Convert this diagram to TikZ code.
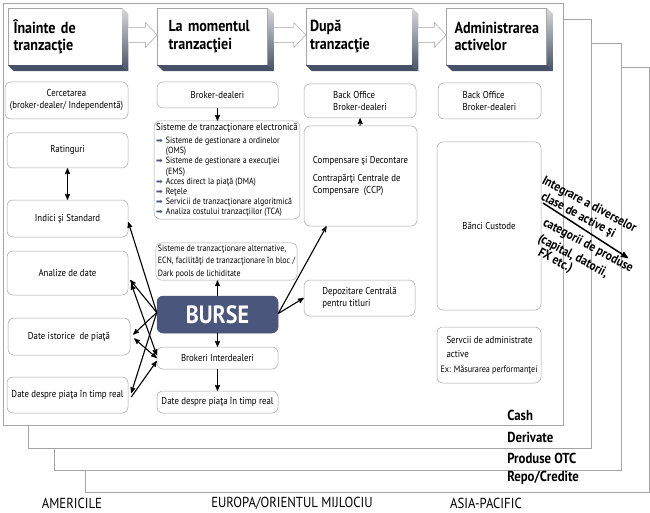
\documentclass[tikz,border=0pt]{standalone}
\usepackage{fontspec}
\setmainfont{PT Sans}[FakeStretch=0.88]
\newfontfamily\symfont{DejaVu Sans}
\usepackage{tikz}
\usetikzlibrary{arrows,positioning,calc}
\definecolor{slate}{RGB}{74,86,124}
\definecolor{edge}{RGB}{165,165,165}
\definecolor{deep}{RGB}{70,80,102}
\newcommand{\bul}{{\symfont\color{slate}\fontsize{8}{8}\selectfont ➡}\,\,}
\newcommand{\slab}[1]{%
  \shade[top color=gray!30,bottom color=deep] (#1.north east) -- ++(6,6) -- ($(#1.south east)+(6,6)$) -- (#1.south east) -- cycle;
  \fill[deep] (#1.south west) -- ++(6,6) -- ($(#1.south east)+(6,6)$) -- (#1.south east) -- cycle;}
\newcommand{\blockarrow}[2]{%
  \draw[edge,fill=white,line width=0.5pt] ($(#1.east)+(6,-9)$) -- ($(#2.west)+(-12,-9)$) -- ($(#2.west)+(-12,-14)$)
    -- ($(#2.west)+(0,-1.5)$) -- ($(#2.west)+(-12,11)$) -- ($(#2.west)+(-12,6)$) -- ($(#1.east)+(6,6)$);}

\begin{document}
\begin{tikzpicture}[x=1pt,y=-1pt,>=stealth',semithick]
\tikzstyle{frame} = [draw=edge,fill=white,line width=0.6pt]
\tikzstyle{box} = [draw=edge,rounded corners=6pt,fill=white,line width=0.5pt,inner sep=2pt,align=center,font=\fontsize{10}{12}\selectfont]
\tikzstyle{head} = [draw=edge,fill=white,line width=0.5pt,align=left,inner ysep=6pt,minimum height=57pt,font=\bfseries\fontsize{16}{17.5}\selectfont]
\tikzstyle{tag} = [anchor=west,inner sep=0pt,font=\bfseries\fontsize{14.5}{16}\selectfont]
\tikzstyle{region} = [inner sep=0pt,font=\fontsize{14.5}{16}\selectfont]
\tikzstyle{slant} = [anchor=base west,rotate=-28,inner sep=0pt,font=\bfseries\fontsize{13}{14}\selectfont]
\useasboundingbox (0,0) rectangle (650,513);

% product layers
\draw[frame] (85,67) rectangle (649,492);
\draw[frame] (54,43) rectangle (621,470);
\draw[frame] (28,19) rectangle (591,448);
\draw[frame] (3,3) rectangle (563,425);
\node[tag] (cash) at (507,415) {Cash};
\node[tag] (deriv) at (507,437) {Derivate};
\node[tag] (otc) at (507,458) {Produse OTC};
\node[tag] (repo) at (507,478) {Repo/Credite};

% stages
\node[head,inner xsep=5.5pt,text width=103pt] (pre) at (65,36.5) {Înainte de\\tranzacţie};
\node[head,inner xsep=11pt,text width=88pt] (during) [right=35pt of pre] {La momentul\\tranzacţiei};
\node[head,inner xsep=4pt,text width=98pt] (post) [right=38pt of during] {După\\tranzacţie};
\node[head,inner xsep=8pt,text width=84pt] (admin) [right=34pt of post] {Administrarea\\activelor};
\slab{pre} \slab{during} \slab{post} \slab{admin}
\blockarrow{pre}{during}
\blockarrow{during}{post}
\blockarrow{post}{admin}

% column 1
\node[box,minimum width=123pt,minimum height=37pt] (cerc) at (66.5,100.5) {Cercetarea\\(broker-dealer/ Independentă)};
\node[box,minimum width=121pt,minimum height=35pt] (rating) at (67.5,150.5) {Ratinguri};
\node[box,minimum width=121pt,minimum height=37pt] (indici) at (67.5,218.5) {Indici şi Standard};
\node[box,minimum width=121pt,minimum height=44pt] (analize) at (67.5,273) {Analize de date};
\node[box,minimum width=122pt,minimum height=37pt] (istoric) at (69,336.5) {Date istorice\ \ de piaţă};
\node[box,minimum width=121pt,minimum height=36pt] (real1) at (67.5,395) {Date despre piaţa în timp real};

% column 2
\node[box,minimum width=121pt,minimum height=26pt] (broker) at (217.5,95) {Broker-dealeri};
\node[box,minimum width=144pt,minimum height=98pt,align=left,font=\fontsize{9}{10.2}\selectfont] (ets) at (227,170) {%
  \fontsize{10}{12}\selectfont Sisteme de tranzacţionare electronică\\[3pt]
  \bul Sisteme de gestionare a ordinelor\\
  \phantom{\bul}(OMS)\\
  \bul Sisteme de gestionare a execuţiei\\
  \phantom{\bul}(EMS)\\
  \bul Acces direct la piaţă (DMA)\\
  \bul Reţele\\
  \bul Servicii de tranzacţionare algoritmică\\
  \bul Analiza costului tranzacţiilor (TCA)};
\node[box,minimum width=141pt,minimum height=37pt,align=left,font=\fontsize{9}{12.5}\selectfont] (alt) at (226.5,261.5) {Sisteme de tranzacţionare alternative,\\ECN, facilităţi de tranzacţionare în bloc /\\Dark pools de lichiditate};
\node[box,draw=slate,fill=slate,text=white,minimum width=121pt,minimum height=37pt,font=\bfseries\fontsize{25}{27}\selectfont] (burse) at (217.5,314.5) {BURSE};
\node[box,minimum width=121pt,minimum height=22pt] (inter) at (217.5,358) {Brokeri Interdealeri};
\node[box,minimum width=121pt,minimum height=22pt] (real2) at (217.5,402) {Date despre piaţa în timp real};

% column 3
\node[box,minimum width=112pt,minimum height=34pt,align=left] (back1) at (360,101) {Back Office\\Broker-dealeri};
\node[box,minimum width=113pt,minimum height=100pt,align=left] (clear) at (360.5,176) {Compensare şi Decontare\\[6pt]Contrapărţi Centrale de\\Compensare\ \ (CCP)};
\node[box,minimum width=111pt,minimum height=36pt,align=left] (depo) at (359.5,298) {Depozitare Centrală\\pentru titluri};

% column 4
\node[box,minimum width=103pt,minimum height=36pt,align=left] (back2) at (489.5,101) {Back Office\\Broker-dealeri};
\node[box,minimum width=104pt,minimum height=168pt] (custode) at (489,226) {Bănci Custode};
\node[box,minimum width=104pt,minimum height=56pt,align=left] (serv) at (489,355) {\hspace*{6pt}Servcii de administrate\\[2pt]\hspace*{6pt}active\\[3pt]{\fontsize{9.3}{10}\selectfont Ex: Măsurarea performanţei}};

% integration note
\node[slant] (int1) at (541,183) {Integrare a diverselor};
\node[slant] (int2) at (540,199) {clase de active şi};
\node[slant] (int3) at (542,225) {categorii de produse};
\node[slant] (int4) at (537,241) {(capital, datorii,};
\node[slant] (int5) at (537,255) {FX etc.)};
\coordinate (intA) at (543,203);
\coordinate (intB) at (628,258);

\tikzset{link/.style={->,line width=1.1pt}}
\tikzset{both/.style={<->,line width=1.1pt}}
\draw[both] (rating) -- (indici);
\draw[link] (broker.south) -- (broker.south |- ets.north);
\draw[link] (burse.north) -- (burse.north |- alt.south);
\draw[link] (burse) -- (inter);
\draw[link] (inter) -- (real2);
\draw[link] (clear) -- (back1);
\draw[link] ($(burse.east)+(0,-1)$) -- ($(clear.south)+(-34,0)$);
\draw[link] ($(burse.east)+(0,-1)$) -- ($(depo.west)+(0,0)$);
\draw[link] ($(burse.west)+(0,-2)$) -- ($(indici.east)+(0,3.5)$);
\draw[link] ($(burse.west)+(0,-2)$) -- ($(analize.east)+(2,7)$);
\draw[link] ($(burse.west)+(0,-2)$) -- ($(istoric.east)+(3,-2)$);
\draw[link] ($(burse.west)+(0,-2)$) -- ($(real1.east)+(3,-2)$);
\draw[both] ($(analize.east)+(3,11)$) -- ($(inter.west)+(0,-3)$);
\draw[both] ($(istoric.east)+(4,2)$) -- ($(inter.west)+(0,0)$);
\draw[link] ($(real1.east)+(3,2)$) -- ($(inter.west)+(0,3)$);
\draw[link,line width=1.5pt] (intA) -- (intB);

% regions
\node[region] (amer) at (72,503) {AMERICILE};
\node[region] (emea) at (292,503) {EUROPA/ORIENTUL MIJLOCIU};
\node[region] (apac) at (486,503) {ASIA-PACIFIC};
\end{tikzpicture}
\end{document}
